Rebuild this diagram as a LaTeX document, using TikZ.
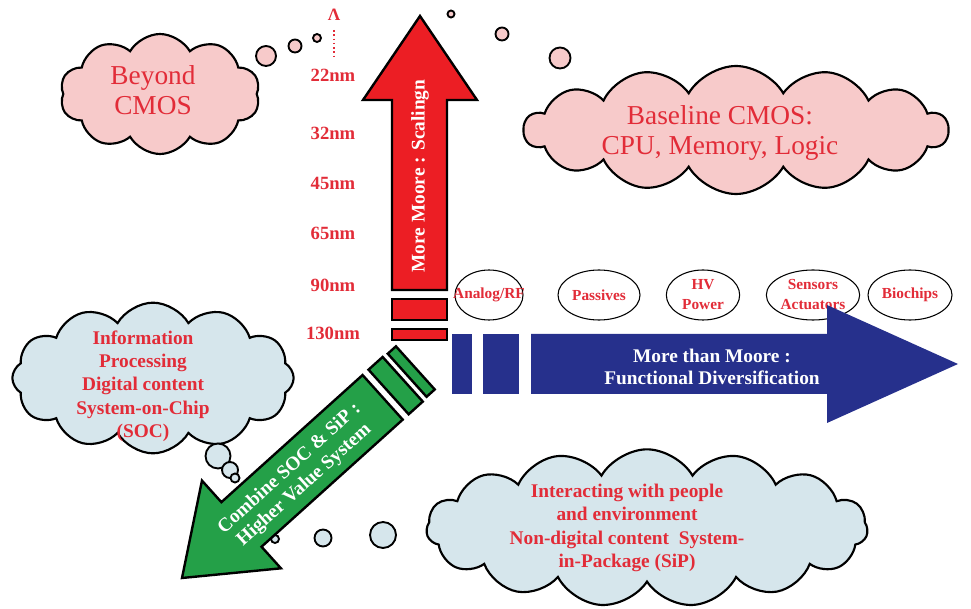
\documentclass[tikz,border=0pt]{standalone}
\usepackage{fontspec}
\setmainfont{Liberation Serif}
\usetikzlibrary{shapes.geometric,shapes.symbols}

\definecolor{labelred}{RGB}{226,44,56}
\definecolor{pinkfill}{RGB}{247,202,202}
\definecolor{icefill}{RGB}{214,230,236}
\definecolor{moorered}{RGB}{236,30,36}
\definecolor{moreblue}{RGB}{38,48,140}
\definecolor{soc}{RGB}{36,160,72}

\begin{document}
\begin{tikzpicture}[x=0.75pt,y=-0.75pt,
  nmlabel/.style={text=labelred, font=\bfseries\fontsize{14}{16}\selectfont, inner sep=0},
  ovalbox/.style={ellipse, draw, line width=0.8pt, fill=white, inner sep=0, minimum height=37.5pt},
  ovaltext/.style={text=labelred, font=\bfseries\fontsize{11.5}{15}\selectfont, align=center, inner sep=0},
  cloudpink/.style={cloud, cloud puffs=#1, cloud puff arc=120, cloud ignores aspect,
    draw, line width=1.6pt, fill=pinkfill, inner sep=0},
  cloudice/.style={cloud, cloud puffs=#1, cloud puff arc=120, cloud ignores aspect,
    draw, line width=1.6pt, fill=icefill, inner sep=0},
  plainred/.style={text=labelred, font=\fontsize{20.5}{22.5}\selectfont, align=center, inner sep=0},
  boldred/.style={text=labelred, font=\bfseries\fontsize{14.5}{17.5}\selectfont, align=center, inner sep=0},
  whitebold/.style={text=white, font=\bfseries\fontsize{14.5}{16.5}\selectfont, align=center, inner sep=0},
  bubblepink/.style={draw, line width=1.4pt, fill=pinkfill},
  bubbleice/.style={draw, line width=1.4pt, fill=icefill},
  arrowline/.style={draw=black, line width=1.8pt, line join=miter}
]
\useasboundingbox (0,0) rectangle (971,609);

% ---------- thought clouds (sizes in pt) ----------
\node[cloudpink=10, minimum width=150pt, minimum height=90pt] (beyond) at (160,94) {};
\node[plainred] (beyondtxt) at (153,90) {Beyond\\CMOS};
\draw[bubblepink] (266,56) circle (10);
\draw[bubblepink] (295,46) circle (6.5);
\draw[bubblepink] (317,38) circle (4);

\node[cloudpink=14, minimum width=318pt, minimum height=96pt] (baseline) at (736,130) {};
\node[plainred] (baselinetxt) at (720,133) {Baseline CMOS:\\CPU, Memory, Logic};
\draw[bubblepink] (560,58) circle (10.5);
\draw[bubblepink] (502,34) circle (6.5);
\draw[bubblepink] (451,14) circle (3.5);

\node[cloudice=12, minimum width=211pt, minimum height=113pt] (soccloud) at (153,378) {};
\node[boldred] (soctxt) at (143,386) {Information\\Processing\\Digital content\\System-on-Chip\\(SOC)};
\draw[bubbleice] (218,456) circle (12.5);
\draw[bubbleice] (230,470) circle (8);
\draw[bubbleice] (235,478) circle (4.5);

\node[cloudice=15, minimum width=331pt, minimum height=118pt] (sipcloud) at (647,528) {};
\node[boldred] (siptxt) at (627,528) {Interacting with people\\and environment\\Non-digital content~ System-\\in-Package (SiP)};
\draw[bubbleice] (383,535) circle (13);
\draw[bubbleice] (323,538) circle (8.5);
\draw[bubbleice] (275,539) circle (4);

% ---------- node-size scale ----------
\node[text=labelred, font=\bfseries\fontsize{13}{13}\selectfont, inner sep=0] (lambda) at (334,15) {Λ};
\draw[labelred, line width=1.2pt, dotted] (334,30) -- (334,58);
\node[nmlabel] (n22)  at (333,75)  {22nm};
\node[nmlabel] (n32)  at (333,133) {32nm};
\node[nmlabel] (n45)  at (333,183) {45nm};
\node[nmlabel] (n65)  at (333,233) {65nm};
\node[nmlabel] (n90)  at (333,285) {90nm};
\node[nmlabel] (n130) at (333,333) {130nm};

% ---------- More Moore arrow ----------
\path[arrowline, fill=moorered]
  (420,16) -- (477,100) -- (447,100) -- (447,290) -- (392,290) -- (392,100) -- (363,100) -- cycle;
\path[arrowline, fill=moorered] (392,299) rectangle (447,320);
\path[arrowline, fill=moorered] (392,329) rectangle (447,340);
\node[whitebold, rotate=90] (mmtxt) at (420,176) {More Moore : Scalingn};

% ---------- application domains ----------
\node[ovalbox, minimum width=51pt] (analog) at (489,295) {};
\node[ovaltext] (analogtxt) at (analog) {Analog/RF};
\node[ovalbox, minimum width=61.5pt] (passive) at (599,295) {};
\node[ovaltext] (passivetxt) at (passive) {Passives};
\node[ovalbox, minimum width=55pt] (hv) at (703,295) {};
\node[ovaltext] (hvtxt) at (hv) {HV\\Power};
\node[ovalbox, minimum width=70pt] (sensor) at (813,295) {};
\node[ovaltext] (sensortxt) at (sensor) {Sensors\\Actuators};
\node[ovalbox, minimum width=63pt] (bio) at (910,295) {};
\node[ovaltext] (biotxt) at (bio) {Biochips};

% ---------- More than Moore arrow ----------
\fill[moreblue] (452,334) rectangle (472,394);
\fill[moreblue] (483,334) rectangle (519,394);
\fill[moreblue]
  (531,334) -- (827,334) -- (827,305) -- (958,364) -- (827,423) -- (827,394) -- (531,394) -- cycle;
\node[whitebold] (mtmtxt) at (712,367) {More than Moore :\\Functional Diversification};

% ---------- SoC + SiP arrow ----------
\begin{scope}[shift={(182,578)}, rotate=42]
  \path[arrowline, fill=soc]
    (0,0) -- (80,59) -- (80,30) -- (270,30) -- (270,-30) -- (80,-30) -- (80,-59) -- cycle;
  \path[arrowline, fill=soc] (278,-30) rectangle (297,30);
  \path[arrowline, fill=soc] (303,-29) rectangle (314,29);
  \node[whitebold, rotate=42] (soctext) at (153,2) {Combine SOC \& SiP :\\Higher Value System};
\end{scope}
\end{tikzpicture}
\end{document}
